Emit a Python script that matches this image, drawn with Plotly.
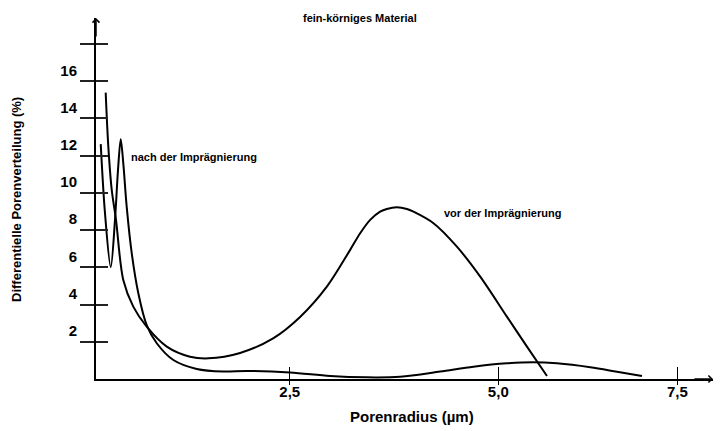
import plotly.graph_objects as go

# Curve before impregnation (large hump)
vor_x = [0.125, 0.159, 0.203, 0.258, 0.352, 0.481, 0.654, 0.913, 1.213, 1.450, 1.859,
         2.285, 2.633, 2.978, 3.279, 3.408, 3.537, 3.666, 3.752, 3.881, 4.011, 4.096,
         4.354, 4.656, 4.957, 5.301, 5.560, 5.818]
vor_y = [15.39, 12.49, 10.16, 8.55, 5.32, 3.89, 2.81, 1.74, 1.20, 1.11, 1.40,
         2.18, 3.33, 4.96, 6.94, 7.83, 8.55, 8.99, 9.14, 9.23, 9.14, 8.99,
         8.37, 7.11, 5.50, 3.35, 1.74, 0.16]

# Curve after impregnation (double spike near zero, small hump)
nach_x = [0.061, 0.116, 0.190, 0.245, 0.284, 0.319, 0.352, 0.396, 0.461, 0.546, 0.654,
          0.784, 0.998, 1.300, 1.643, 1.945, 2.504, 3.021, 3.494, 3.924, 4.440, 4.870,
          5.301, 5.645, 5.947, 6.377, 6.721, 7.044]
nach_y = [12.62, 8.91, 6.01, 8.55, 11.24, 12.89, 11.60, 9.26, 6.76, 4.61, 2.90,
          1.92, 1.02, 0.54, 0.40, 0.43, 0.35, 0.16, 0.09, 0.12, 0.40, 0.66,
          0.84, 0.90, 0.84, 0.63, 0.39, 0.16]

y_tick_vals = [2, 4, 6, 8, 10, 12, 14, 16, 18]
y_tick_text = ["2", "4", "6", "8", "10", "12", "14", "16", ""]
x_tick_vals = [2.5, 5.19, 7.5]
x_tick_text = ["2,5", "5,0", "7,5"]

FONT = "Liberation Sans, Arial, sans-serif"
X_RANGE = [0, 7.96]
Y_RANGE = [0, 19.4]

fig = go.Figure()

for xs, ys in [(vor_x, vor_y), (nach_x, nach_y)]:
    fig.add_trace(go.Scatter(
        x=xs, y=ys, mode="lines",
        line=dict(color="black", width=2, shape="spline", smoothing=0.9),
        showlegend=False, hoverinfo="skip",
    ))

# empty trace so the overlay axes (inner tick halves) get drawn
fig.add_trace(go.Scatter(x=[], y=[], xaxis="x2", yaxis="y2", showlegend=False))

# page body has an 8px margin, so the figure is 8px smaller than the window
fig.update_layout(
    width=715, height=423,
    margin=dict(l=88, r=10, t=10, b=52),
    paper_bgcolor="white", plot_bgcolor="white",
    font=dict(family=FONT, color="black"),
    xaxis=dict(
        range=X_RANGE, showgrid=False, zeroline=False,
        showline=True, linecolor="black", linewidth=2,
        ticks="outside", ticklen=4, tickwidth=1, tickcolor="black",
        tickvals=x_tick_vals, ticktext=x_tick_text,
        tickfont=dict(size=15, weight="bold"), ticklabelstandoff=-6,
    ),
    xaxis2=dict(
        range=X_RANGE, overlaying="x", anchor="y2", side="bottom",
        showgrid=False, zeroline=False, showline=False,
        ticks="inside", ticklen=12, tickwidth=1, tickcolor="black",
        tickvals=x_tick_vals, showticklabels=False,
    ),
    yaxis=dict(
        range=Y_RANGE, showgrid=False, zeroline=False,
        showline=True, linecolor="black", linewidth=2,
        ticks="outside", ticklen=14, tickwidth=1.5, tickcolor="#222",
        tickvals=y_tick_vals, ticktext=y_tick_text,
        tickfont=dict(size=15, weight="bold"), ticklabelshift=-11,
    ),
    yaxis2=dict(
        range=Y_RANGE, overlaying="y", anchor="x2", side="left",
        showgrid=False, zeroline=False, showline=False,
        ticks="inside", ticklen=12, tickwidth=1.5, tickcolor="#222",
        tickvals=y_tick_vals, showticklabels=False,
    ),
)

# axis arrows
fig.add_annotation(xref="paper", yref="paper", x=0, y=1, ax=0, ay=20, text="",
                   showarrow=True, arrowhead=4, arrowwidth=1.5, arrowsize=0.9,
                   arrowcolor="black", standoff=0)
fig.add_annotation(xref="paper", yref="paper", x=1, y=0, ax=-20, ay=0, text="",
                   showarrow=True, arrowhead=4, arrowwidth=1.5, arrowsize=0.9,
                   arrowcolor="black", standoff=0)

# texts
fig.add_annotation(xref="paper", yref="paper", x=0.428, y=1.0, yanchor="middle",
                   text="fein-körniges Material", showarrow=False,
                   font=dict(size=11, weight="bold"))
fig.add_annotation(xref="x", yref="y", x=0.426, y=11.94, xanchor="left",
                   text="nach der Imprägnierung", showarrow=False,
                   font=dict(size=11, weight="bold"))
fig.add_annotation(xref="x", yref="y", x=4.466, y=8.92, xanchor="left",
                   text="vor der Imprägnierung", showarrow=False,
                   font=dict(size=11, weight="bold"))
fig.add_annotation(xref="paper", yref="paper", x=0.512, y=-0.1025, yanchor="middle",
                   text="Porenradius (µm)", showarrow=False,
                   font=dict(size=15, weight="bold"))
fig.add_annotation(xref="paper", yref="paper", x=-0.128, y=0.496, textangle=-90,
                   xanchor="center", yanchor="middle",
                   text="Differentielle Porenverteilung (%)", showarrow=False,
                   font=dict(size=13, weight="bold"))

fig.write_html("out.html")
